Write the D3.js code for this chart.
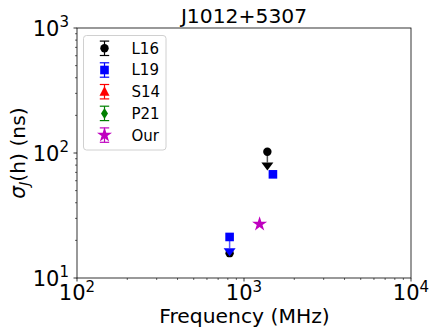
<!DOCTYPE html>
<html><head><meta charset="utf-8">
<script src="https://cdn.jsdelivr.net/npm/d3@7"></script>
<style>body{margin:0;background:#fff}svg{display:block;font-family:"DejaVu Sans",sans-serif}</style>
</head><body><svg id="c" width="436" height="335"></svg>
<script>
// Data
const seriesNames = ["L16", "L19", "S14", "P21", "Our"];
const seriesColors = ["#000000", "#0000ff", "#ff0000", "#008000", "#bf00bf"];
const seriesShapes = ["circle", "square", "triangle", "diamond", "star"];
const L16_freq = [820, 1380];
const L16_val = [15.8, 102.4];
const L16_lim = [null, 84];       // upper limit arrow end
const L19_freq = [820, 1490];
const L19_val = [21.3, 67.5];
const L19_lim = [17.3, null];
const S14_freq = [];
const S14_val = [];
const P21_freq = [];
const P21_val = [];
const Our_freq = [1240];
const Our_val = [27.0];
const xTicks = [100, 1000, 10000];
const yTicks = [10, 100, 1000];

const svg = d3.select("#c");
const L = 77, R = 411, T = 28, B = 278;
const x = d3.scaleLog().domain([100, 10000]).range([L, R]);
const y = d3.scaleLog().domain([10, 1000]).range([B, T]);

// minor ticks
const minorX = [], minorY = [];
[100, 1000].forEach(d => { for (let k = 2; k <= 9; k++) minorX.push(d * k); });
[10, 100].forEach(d => { for (let k = 2; k <= 9; k++) minorY.push(d * k); });

const g = svg.append("g");
g.selectAll(".mx").data(minorX).enter().append("line")
  .attr("x1", d => x(d)).attr("x2", d => x(d)).attr("y1", B).attr("y2", B + 2)
  .attr("stroke", "#000").attr("stroke-width", 0.6);
g.selectAll(".my").data(minorY).enter().append("line")
  .attr("y1", d => y(d)).attr("y2", d => y(d)).attr("x1", L).attr("x2", L - 2)
  .attr("stroke", "#000").attr("stroke-width", 0.6);
g.selectAll(".Mx").data(xTicks).enter().append("line")
  .attr("x1", d => x(d)).attr("x2", d => x(d)).attr("y1", B).attr("y2", B + 3.5)
  .attr("stroke", "#000").attr("stroke-width", 0.8);
g.selectAll(".My").data(yTicks).enter().append("line")
  .attr("y1", d => y(d)).attr("y2", d => y(d)).attr("x1", L).attr("x2", L - 3.5)
  .attr("stroke", "#000").attr("stroke-width", 0.8);

// frame
svg.append("rect").attr("x", L).attr("y", T).attr("width", R - L).attr("height", B - T)
  .attr("fill", "none").attr("stroke", "#000").attr("stroke-width", 0.8);

// tick labels
const exp = d => Math.round(Math.log10(d));
xTicks.forEach(d => {
  const t = svg.append("text").attr("x", x(d)).attr("y", 300).attr("text-anchor", "middle")
    .attr("font-size", 21).attr("fill", "#000");
  t.append("tspan").text("10");
  t.append("tspan").attr("font-size", 15).attr("dy", -8.5).text(exp(d));
});
yTicks.forEach(d => {
  const t = svg.append("text").attr("x", 69).attr("y", y(d) + 7.5).attr("text-anchor", "end")
    .attr("font-size", 21).attr("fill", "#000");
  t.append("tspan").text("10");
  t.append("tspan").attr("font-size", 15).attr("dy", -8.5).text(exp(d));
});

// title and axis labels
svg.append("text").attr("x", (L + R) / 2).attr("y", 23).attr("text-anchor", "middle")
  .attr("font-size", 20.3).text("J1012+5307");
svg.append("text").attr("x", (L + R) / 2 + 0.5).attr("y", 323).attr("text-anchor", "middle")
  .attr("font-size", 20.3).text("Frequency (MHz)");
const yl = svg.append("text").attr("transform", `translate(25,${(T + B) / 2}) rotate(-90)`)
  .attr("text-anchor", "middle").attr("font-size", 20.3);
yl.append("tspan").attr("font-style", "italic").text("σ");
yl.append("tspan").attr("font-size", 14).attr("font-style", "italic").attr("dy", 4).text("J");
yl.append("tspan").attr("dy", -4).text("(h) (ns)");

// marker drawing
function marker(sel, shape, cx, cy, color, scale) {
  const s = scale || 1;
  if (shape === "circle") sel.append("circle").attr("cx", cx).attr("cy", cy).attr("r", 4.2 * s).attr("fill", color);
  else if (shape === "square") sel.append("rect").attr("x", cx - 4.3 * s).attr("y", cy - 4.3 * s).attr("width", 8.6 * s).attr("height", 8.6 * s).attr("fill", color);
  else if (shape === "triangle") sel.append("path").attr("d", `M${cx},${cy - 5.5 * s}L${cx + 5 * s},${cy + 4 * s}L${cx - 5 * s},${cy + 4 * s}Z`).attr("fill", color);
  else if (shape === "diamond") sel.append("path").attr("d", `M${cx},${cy - 5.5 * s}L${cx + 3.5 * s},${cy}L${cx},${cy + 5.5 * s}L${cx - 3.5 * s},${cy}Z`).attr("fill", color);
  else if (shape === "star") sel.append("path").attr("transform", `translate(${cx},${cy})`)
    .attr("d", d3.symbol().type(d3.symbolStar).size(70 * s * s)()).attr("fill", color);
}

// data marks
const plot = svg.append("g");
function drawSeries(freq, val, lim, idx) {
  const color = seriesColors[idx];
  freq.forEach((f, i) => {
    if (lim && lim[i] != null) {
      const cx = x(f), y0 = y(val[i]), y1 = y(lim[i]);
      plot.append("line").attr("x1", cx).attr("x2", cx).attr("y1", y0).attr("y2", y1)
        .attr("stroke", color).attr("stroke-width", 1.5).attr("stroke-opacity", 0.65);
      plot.append("path").attr("d", `M${cx - 6},${y1}L${cx + 6},${y1}L${cx},${y1 + 8}Z`).attr("fill", color);
    }
  });
  freq.forEach((f, i) => marker(plot, seriesShapes[idx], x(f), y(val[i]), color));
}
drawSeries(L16_freq, L16_val, L16_lim, 0);
drawSeries(L19_freq, L19_val, L19_lim, 1);
drawSeries(S14_freq, S14_val, null, 2);
drawSeries(P21_freq, P21_val, null, 3);
drawSeries(Our_freq, Our_val, null, 4);

// legend
const lg = svg.append("g");
lg.append("rect").attr("x", 83.5).attr("y", 35.5).attr("width", 82.5).attr("height", 114.5)
  .attr("rx", 3).attr("fill", "#fff").attr("fill-opacity", 0.8).attr("stroke", "#d0d0d0").attr("stroke-width", 1);
seriesNames.forEach((n, i) => {
  const cy = 48.3 + i * 21.7, cx = 104.5, c = seriesColors[i];
  lg.append("line").attr("x1", cx).attr("x2", cx).attr("y1", cy - 7.2).attr("y2", cy + 7.2).attr("stroke", c).attr("stroke-width", 1.2);
  [cy - 7.2, cy + 7.2].forEach(yy => lg.append("line").attr("x1", cx - 4.7).attr("x2", cx + 4.7).attr("y1", yy).attr("y2", yy).attr("stroke", c).attr("stroke-width", 1.2));
  marker(lg, seriesShapes[i], cx, cy, c);
  lg.append("text").attr("x", 131.5).attr("y", cy + 5.4).attr("font-size", 15).text(n);
});
</script></body></html>
